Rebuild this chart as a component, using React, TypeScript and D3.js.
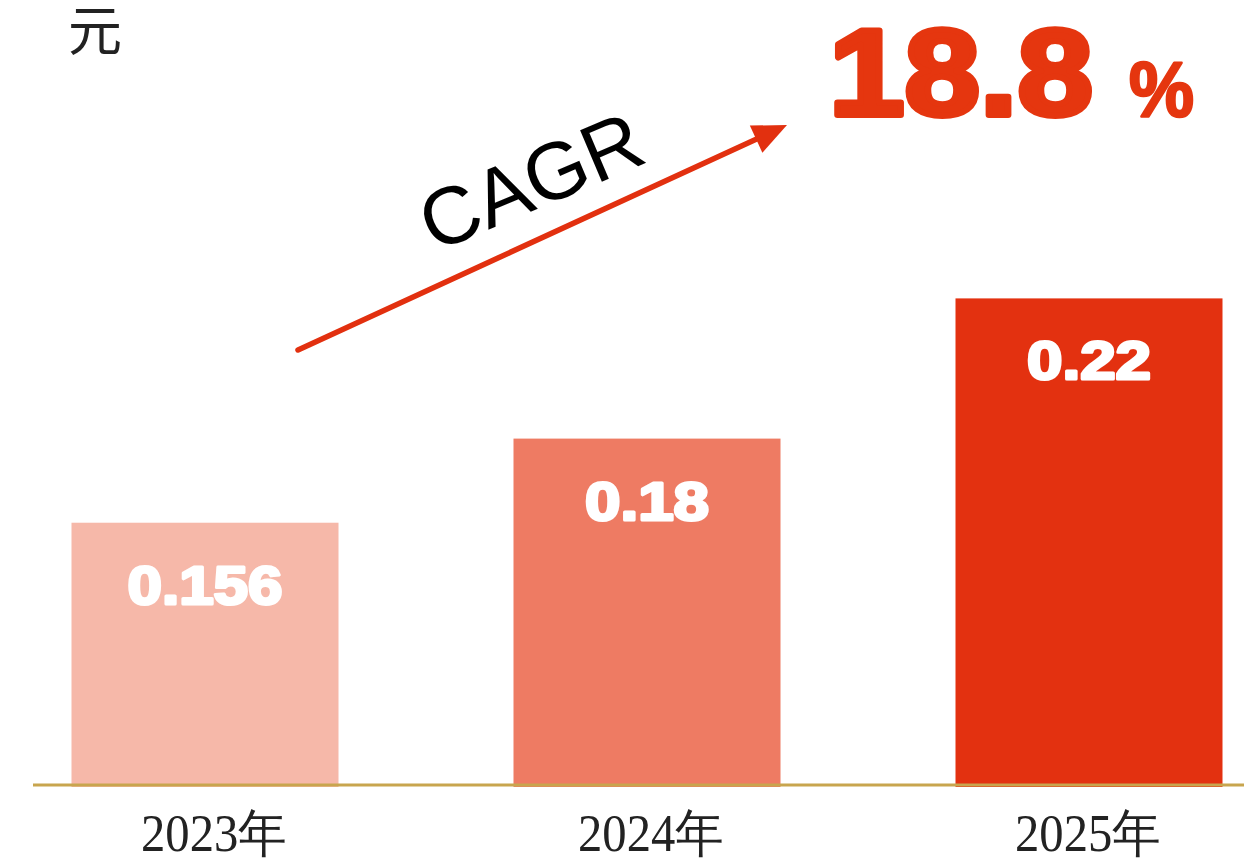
import React from "react";
import * as d3 from "d3";

const categories = ["2023年", "2024年", "2025年"];
const values = [0.156, 0.18, 0.22];
const valueLabels = ["0.156", "0.18", "0.22"];
const barColors = ["#f6b8a9", "#ee7b63", "#e33110"];
const unitLabel = "元";
const cagrLabel = "CAGR";
const cagrValue = "18.8";
const cagrUnit = "%";

const W = 1244;
const H = 866;

export default function App() {
  const baseY = 787;
  const x = d3.scalePoint<string>().domain(categories).range([205, 1089]);
  const xLabel = d3.scalePoint<string>().domain(categories).range([214, 1088]);
  const y = d3.scaleLinear().domain([0.0806, 0.22]).range([baseY, 298.4]);
  const barW = 267;

  const ax0 = 298, ay0 = 350, ax1 = 787, ay1 = 125;
  const ang = Math.atan2(ay1 - ay0, ax1 - ax0);
  const headLen = 34, headW = 15;
  const bx = ax1 - headLen * Math.cos(ang);
  const by = ay1 - headLen * Math.sin(ang);
  const px = -Math.sin(ang), py = Math.cos(ang);
  const head = [
    [ax1, ay1],
    [bx + px * headW, by + py * headW],
    [bx - px * headW, by - py * headW],
  ];

  return (
    <div style={{ position: "absolute", left: 0, top: 0 }}>
      <svg width={W} height={H} style={{ display: "block", background: "#fff" }}>
        <text x={68} y={51} fontFamily="'Noto Sans CJK SC', sans-serif" fontSize={54} fill="#222">
          {unitLabel}
        </text>

        {categories.map((c, i) => (
          <g key={c}>
            <rect
              x={(x(c) as number) - barW / 2}
              y={y(values[i])}
              width={barW}
              height={baseY - y(values[i])}
              fill={barColors[i]}
            />
            <text
              x={x(c) as number}
              y={y(values[i]) + 81}
              textAnchor="middle"
              fontFamily="'Liberation Sans', Arial, sans-serif"
              fontWeight="bold"
              fontSize={54}
              fill="#fff"
              stroke="#fff"
              strokeWidth={3}
              strokeLinejoin="round"
              textLength={valueLabels[i].length * 31}
              lengthAdjust="spacingAndGlyphs"
            >
              {valueLabels[i]}
            </text>
            <text
              x={xLabel(c) as number}
              y={851}
              textAnchor="middle"
              fontFamily="'Liberation Serif', 'Times New Roman', serif"
              fontSize={52}
              fill="#222"
              textLength={146}
              lengthAdjust="spacingAndGlyphs"
            >
              {c}
            </text>
          </g>
        ))}

        <line x1={33} x2={W} y1={785} y2={785} stroke="#c8a54e" strokeWidth={3} />

        <line
          x1={ax0}
          y1={ay0}
          x2={bx}
          y2={by}
          stroke="#e2300f"
          strokeWidth={5.5}
          strokeLinecap="round"
        />
        <polygon points={head.map((p) => p.join(",")).join(" ")} fill="#e2300f" />

        <text
          x={0}
          y={0}
          transform={`translate(542,207) rotate(-23)`}
          textAnchor="middle"
          fontFamily="'Liberation Sans', Arial, sans-serif"
          fontSize={81}
          fill="#000"
        >
          {cagrLabel}
        </text>

        <text
          x={829}
          y={115}
          fontFamily="'Liberation Sans', Arial, sans-serif"
          fontWeight="bold"
          fontSize={123}
          fill="#e5360f"
          stroke="#e5360f"
          strokeWidth={6}
          strokeLinejoin="round"
          textLength={264}
          lengthAdjust="spacingAndGlyphs"
        >
          {cagrValue}
        </text>
        <text
          x={1129}
          y={116}
          fontFamily="'Liberation Sans', Arial, sans-serif"
          fontWeight="bold"
          fontSize={78}
          fill="#e5360f"
          stroke="#e5360f"
          strokeWidth={2.5}
          strokeLinejoin="round"
          textLength={65}
          lengthAdjust="spacingAndGlyphs"
        >
          {cagrUnit}
        </text>
      </svg>
    </div>
  );
}
